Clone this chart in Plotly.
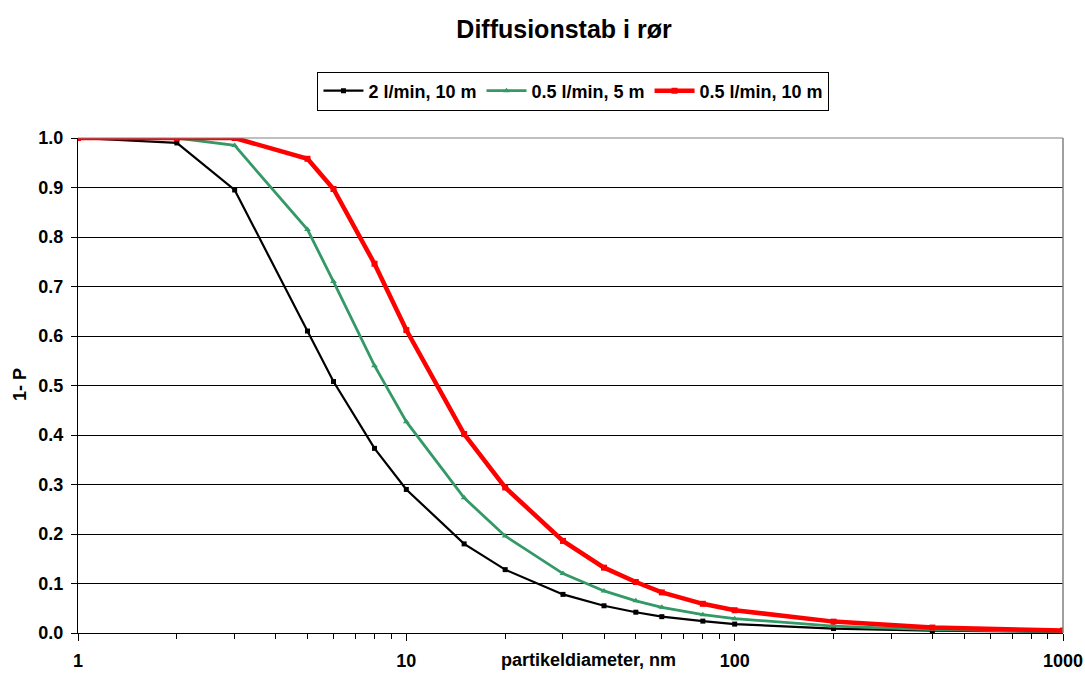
import plotly.graph_objects as go

diam = [1, 2, 3, 5, 6, 8, 10, 15, 20, 30, 40, 50, 60, 80, 100, 200, 400, 1000]
s_black = [1.0, 0.99, 0.895, 0.61, 0.508, 0.373, 0.29, 0.18, 0.128, 0.078, 0.055, 0.042, 0.033, 0.024, 0.018, 0.009, 0.005, 0.002]
s_green = [1.0, 1.0, 0.985, 0.815, 0.71, 0.54, 0.427, 0.273, 0.196, 0.12, 0.085, 0.065, 0.052, 0.037, 0.029, 0.014, 0.007, 0.003]
s_red = [1.0, 1.0, 1.0, 0.958, 0.897, 0.746, 0.612, 0.402, 0.294, 0.186, 0.132, 0.103, 0.082, 0.059, 0.046, 0.023, 0.011, 0.005]
names = ["2 l/min, 10 m", "0.5 l/min, 5 m", "0.5 l/min, 10 m"]
xticks = [1, 10, 100, 1000]
yticks = [0.0, 0.1, 0.2, 0.3, 0.4, 0.5, 0.6, 0.7, 0.8, 0.9, 1.0]

FONT = "Arial, Liberation Sans, sans-serif"
FS = 18

fig = go.Figure()
fig.add_trace(go.Scatter(x=diam, y=s_black, name=names[0], mode="lines+markers",
                         line=dict(color="#000000", width=2.2),
                         marker=dict(symbol="square", size=5, color="#000000")))
fig.add_trace(go.Scatter(x=diam, y=s_green, name=names[1], mode="lines+markers",
                         line=dict(color="#339966", width=2.8),
                         marker=dict(symbol="triangle-up", size=6, color="#339966")))
fig.add_trace(go.Scatter(x=diam, y=s_red, name=names[2], mode="lines+markers",
                         line=dict(color="#FF0000", width=4.5),
                         marker=dict(symbol="square", size=6, color="#FF0000")))

fig.update_layout(
    width=1085, height=682,
    margin=dict(l=78, r=22, t=138, b=49, autoexpand=False),
    paper_bgcolor="white", plot_bgcolor="white",
    font=dict(family=FONT, size=FS, color="black", weight="bold"),
    title=dict(text="<b>Diffusionstab i rør</b>", x=564 / 1085, xanchor="center", y=1 - 29 / 682, yanchor="middle",
               font=dict(family=FONT, size=25, color="black")),
    showlegend=True,
    legend=dict(orientation="h", x=0.503, xanchor="center", y=(633 - 91) / 495, yanchor="middle",
                bordercolor="black", borderwidth=1, bgcolor="white",
                font=dict(family=FONT, size=FS, color="black", weight="bold"),
                itemwidth=40, tracegroupgap=0),
    xaxis=dict(type="log", range=[0, 3], tickvals=xticks, ticktext=[str(v) for v in xticks],
               ticks="outside", ticklen=7, tickcolor="black", showline=True, linecolor="black",
               linewidth=1, showgrid=False, zeroline=False, mirror=False, automargin=False,
               ticklabelstandoff=4,
               minor=dict(ticks="outside", ticklen=5, tickcolor="black", dtick="D1", showgrid=False),
               tickfont=dict(family=FONT, size=FS, color="black", weight="bold")),
    yaxis=dict(range=[0, 1.0], tickvals=yticks, ticktext=["%.1f" % v for v in yticks],
               ticks="outside", ticklen=6, tickcolor="black", showline=True, linecolor="black",
               linewidth=1, showgrid=True, gridcolor="black", gridwidth=1, zeroline=False,
               automargin=False, ticklabelstandoff=4,
               tickfont=dict(family=FONT, size=FS, color="black", weight="bold")),
)
fig.add_annotation(text="<b>partikeldiameter, nm</b>", xref="paper", yref="paper", x=(588 - 78) / 985, y=0,
                   yshift=-(660 - 633), showarrow=False, xanchor="center", yanchor="middle",
                   font=dict(family=FONT, size=FS, color="black"))
fig.add_annotation(text="<b>1- P</b>", xref="paper", yref="paper", x=0, y=(633 - 385) / 495,
                   xshift=-(78 - 20), showarrow=False, textangle=-90, xanchor="center", yanchor="middle",
                   font=dict(family=FONT, size=FS, color="black"))
# right and top border of plot area (grey)
fig.add_shape(type="line", xref="paper", yref="paper", x0=1, x1=1, y0=0, y1=1,
              line=dict(color="#808080", width=1.5))
fig.add_shape(type="line", xref="paper", yref="paper", x0=0, x1=1, y0=1, y1=1,
              line=dict(color="#808080", width=1))

fig.write_html("out.html")
